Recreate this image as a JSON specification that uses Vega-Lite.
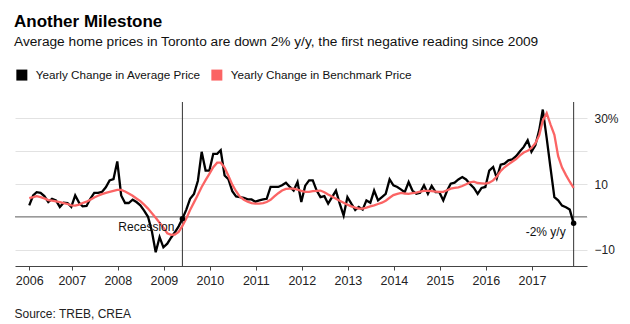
{
  "$schema": "https://vega.github.io/schema/vega-lite/v6.json",
  "width": 572,
  "height": 164,
  "autosize": {"type": "none"},
  "padding": {"left": 15, "top": 102, "right": 43, "bottom": 58},
  "background": "white",
  "config": {"view": {"stroke": null}, "font": "Liberation Sans"},
  "title": {
    "text": "Another Milestone",
    "subtitle": "Average home prices in Toronto are down 2% y/y, the first negative reading since 2009",
    "anchor": "start",
    "frame": "group",
    "fontSize": 17,
    "fontWeight": "bold",
    "color": "#000000",
    "subtitleFontSize": 13.7,
    "subtitleColor": "#111111",
    "subtitlePadding": 4,
    "offset": 19,
    "dx": -1
  },
  "datasets": {
    "series": [
      {"d":"2006-01-28","a":3.5,"b":5.7},{"d":"2006-02-28","a":6.5,"b":6.0},{"d":"2006-03-28","a":7.5,"b":6.3},{"d":"2006-04-28","a":7.3,"b":6.0},{"d":"2006-05-28","a":6.3,"b":5.6},{"d":"2006-06-28","a":4.5,"b":5.1},{"d":"2006-07-28","a":5.5,"b":4.9},{"d":"2006-08-28","a":5.0,"b":4.7},{"d":"2006-09-28","a":3.0,"b":4.5},{"d":"2006-10-28","a":4.3,"b":4.2},{"d":"2006-11-28","a":4.2,"b":3.9},{"d":"2006-12-28","a":3.0,"b":3.5},
      {"d":"2007-01-28","a":6.5,"b":3.4},{"d":"2007-02-28","a":4.3,"b":3.7},{"d":"2007-03-28","a":3.2,"b":4.2},{"d":"2007-04-28","a":3.3,"b":4.6},{"d":"2007-05-28","a":5.5,"b":5.2},{"d":"2007-06-28","a":7.3,"b":5.9},{"d":"2007-07-28","a":7.3,"b":6.4},{"d":"2007-08-28","a":7.6,"b":6.9},{"d":"2007-09-28","a":9.0,"b":7.3},{"d":"2007-10-28","a":11.1,"b":7.6},{"d":"2007-11-28","a":11.5,"b":7.9},{"d":"2007-12-28","a":16.9,"b":8.2},
      {"d":"2008-01-28","a":6.5,"b":8.2},{"d":"2008-02-28","a":4.2,"b":7.7},{"d":"2008-03-28","a":4.2,"b":7.1},{"d":"2008-04-28","a":5.2,"b":6.4},{"d":"2008-05-28","a":4.5,"b":5.6},{"d":"2008-06-28","a":3.5,"b":4.8},{"d":"2008-07-28","a":1.9,"b":3.7},{"d":"2008-08-28","a":0.0,"b":2.5},{"d":"2008-09-28","a":-4.5,"b":1.1},{"d":"2008-10-28","a":-10.8,"b":-0.3},{"d":"2008-11-28","a":-6.2,"b":-1.8},{"d":"2008-12-28","a":-9.3,"b":-3.3},
      {"d":"2009-01-28","a":-8.2,"b":-5.0},{"d":"2009-02-28","a":-6.3,"b":-5.5},{"d":"2009-03-28","a":-4.8,"b":-5.4},{"d":"2009-04-28","a":-2.9,"b":-4.6},{"d":"2009-05-28","a":-0.6,"b":-2.8},{"d":"2009-06-28","a":2.2,"b":-0.5},{"d":"2009-07-28","a":5.5,"b":2.1},{"d":"2009-08-28","a":7.0,"b":4.4},{"d":"2009-09-28","a":11.0,"b":6.7},{"d":"2009-10-28","a":19.8,"b":9.1},{"d":"2009-11-28","a":14.1,"b":11.2},{"d":"2009-12-28","a":14.1,"b":13.1},
      {"d":"2010-01-28","a":19.2,"b":15.1},{"d":"2010-02-28","a":19.2,"b":16.5},{"d":"2010-03-28","a":20.3,"b":16.5},{"d":"2010-04-28","a":12.6,"b":15.0},{"d":"2010-05-28","a":11.5,"b":12.5},{"d":"2010-06-28","a":7.8,"b":9.8},{"d":"2010-07-28","a":6.2,"b":7.8},{"d":"2010-08-28","a":6.0,"b":6.1},{"d":"2010-09-28","a":5.8,"b":5.2},{"d":"2010-10-28","a":5.3,"b":4.6},{"d":"2010-11-28","a":5.3,"b":4.2},{"d":"2010-12-28","a":4.6,"b":4.0},
      {"d":"2011-01-28","a":5.0,"b":4.0},{"d":"2011-02-28","a":5.3,"b":4.2},{"d":"2011-03-28","a":5.5,"b":4.5},{"d":"2011-04-28","a":9.1,"b":5.2},{"d":"2011-05-28","a":9.1,"b":6.2},{"d":"2011-06-28","a":9.1,"b":7.2},{"d":"2011-07-28","a":9.6,"b":8.0},{"d":"2011-08-28","a":10.4,"b":8.5},{"d":"2011-09-28","a":9.1,"b":8.6},{"d":"2011-10-28","a":8.0,"b":8.6},{"d":"2011-11-28","a":10.6,"b":8.3},{"d":"2011-12-28","a":4.5,"b":7.9},
      {"d":"2012-01-28","a":9.5,"b":7.6},{"d":"2012-02-28","a":11.1,"b":7.6},{"d":"2012-03-28","a":11.1,"b":7.8},{"d":"2012-04-28","a":8.0,"b":7.9},{"d":"2012-05-28","a":6.0,"b":8.0},{"d":"2012-06-28","a":6.3,"b":7.5},{"d":"2012-07-28","a":4.0,"b":6.8},{"d":"2012-08-28","a":6.0,"b":6.2},{"d":"2012-09-28","a":8.0,"b":5.5},{"d":"2012-10-28","a":4.0,"b":4.9},{"d":"2012-11-28","a":0.4,"b":4.3},{"d":"2012-12-28","a":6.0,"b":3.7},
      {"d":"2013-01-28","a":4.0,"b":3.2},{"d":"2013-02-28","a":2.1,"b":2.8},{"d":"2013-03-28","a":3.0,"b":2.5},{"d":"2013-04-28","a":2.2,"b":2.5},{"d":"2013-05-28","a":5.0,"b":2.8},{"d":"2013-06-28","a":4.3,"b":3.2},{"d":"2013-07-28","a":8.0,"b":3.5},{"d":"2013-08-28","a":5.0,"b":3.9},{"d":"2013-09-28","a":6.0,"b":4.3},{"d":"2013-10-28","a":7.0,"b":4.9},{"d":"2013-11-28","a":11.4,"b":5.8},{"d":"2013-12-28","a":9.6,"b":6.6},
      {"d":"2014-01-28","a":9.1,"b":7.0},{"d":"2014-02-28","a":8.3,"b":7.3},{"d":"2014-03-28","a":7.5,"b":7.1},{"d":"2014-04-28","a":10.6,"b":7.0},{"d":"2014-05-28","a":8.0,"b":7.2},{"d":"2014-06-28","a":7.0,"b":7.4},{"d":"2014-07-28","a":7.3,"b":7.7},{"d":"2014-08-28","a":9.6,"b":7.9},{"d":"2014-09-28","a":7.0,"b":7.9},{"d":"2014-10-28","a":9.4,"b":7.8},{"d":"2014-11-28","a":7.5,"b":7.7},{"d":"2014-12-28","a":7.5,"b":7.6},
      {"d":"2015-01-28","a":5.0,"b":7.6},{"d":"2015-02-28","a":8.0,"b":8.1},{"d":"2015-03-28","a":10.1,"b":8.6},{"d":"2015-04-28","a":10.4,"b":8.8},{"d":"2015-05-28","a":11.4,"b":9.0},{"d":"2015-06-28","a":12.1,"b":9.4},{"d":"2015-07-28","a":11.4,"b":9.9},{"d":"2015-08-28","a":10.0,"b":10.5},{"d":"2015-09-28","a":8.8,"b":10.7},{"d":"2015-10-28","a":7.0,"b":10.3},{"d":"2015-11-28","a":8.8,"b":10.2},{"d":"2015-12-28","a":9.1,"b":10.1},
      {"d":"2016-01-28","a":14.1,"b":10.4},{"d":"2016-02-28","a":15.2,"b":11.1},{"d":"2016-03-28","a":11.8,"b":12.3},{"d":"2016-04-28","a":15.9,"b":14.0},{"d":"2016-05-28","a":16.2,"b":15.1},{"d":"2016-06-28","a":17.2,"b":16.0},{"d":"2016-07-28","a":17.5,"b":16.8},{"d":"2016-08-28","a":18.5,"b":17.6},{"d":"2016-09-28","a":20.0,"b":18.7},{"d":"2016-10-28","a":21.3,"b":19.6},{"d":"2016-11-28","a":23.3,"b":20.1},{"d":"2016-12-28","a":19.8,"b":21.0},
      {"d":"2017-01-28","a":21.8,"b":22.4},{"d":"2017-02-28","a":26.5,"b":24.9},{"d":"2017-03-28","a":32.7,"b":29.3},{"d":"2017-04-28","a":24.0,"b":31.6},{"d":"2017-05-28","a":15.0,"b":28.2},{"d":"2017-06-28","a":6.0,"b":25.0},{"d":"2017-07-28","a":5.0,"b":18.5},{"d":"2017-08-28","a":3.4,"b":15.0},{"d":"2017-09-28","a":2.9,"b":12.7},{"d":"2017-10-28","a":2.2,"b":10.7},{"d":"2017-11-28","a":-2.0,"b":8.8}
    ],
    "zero": [{"v": 0}],
    "vlines": [{"d": "2009-05-28"}, {"d": "2017-11-28"}],
    "dots": [{"d": "2009-05-28", "v": -0.6}, {"d": "2017-11-28", "v": -2.0}],
    "notes": [{"d": "2009-05-28", "v": -3.1, "t": "Recession"}, {"d": "2017-11-28", "v": -4.5, "t": "-2% y/y"}]
  },
  "layer": [
    {
      "data": {"name": "zero"},
      "mark": {"type": "rule", "color": "#9a9a9a", "strokeWidth": 1.5},
      "encoding": {"y": {"field": "v", "type": "quantitative"}}
    },
    {
      "data": {"name": "vlines"},
      "mark": {"type": "rule", "color": "#333333", "strokeWidth": 1},
      "encoding": {"x": {"field": "d", "type": "temporal"}}
    },
    {
      "data": {"name": "series"},
      "transform": [{"fold": ["a", "b"], "as": ["s", "v"]}],
      "mark": {"type": "line", "strokeWidth": 2.3},
      "encoding": {
        "x": {
          "field": "d",
          "type": "temporal",
          "scale": {"domain": ["2005-10-07", "2018-03-14"]},
          "axis": {
            "values": [
              {"year": 2006, "month": 1, "date": 28},
              {"year": 2007, "month": 1, "date": 1},
              {"year": 2008, "month": 1, "date": 1},
              {"year": 2009, "month": 1, "date": 1},
              {"year": 2010, "month": 1, "date": 1},
              {"year": 2011, "month": 1, "date": 1},
              {"year": 2012, "month": 1, "date": 1},
              {"year": 2013, "month": 1, "date": 1},
              {"year": 2014, "month": 1, "date": 1},
              {"year": 2015, "month": 1, "date": 1},
              {"year": 2016, "month": 1, "date": 1},
              {"year": 2017, "month": 1, "date": 1}
            ],
            "format": "%Y",
            "grid": false,
            "domainColor": "#444444",
            "tickColor": "#444444",
            "tickSize": 4,
            "labelFontSize": 12.5,
            "labelColor": "#222222",
            "labelPadding": 4,
            "labelFlush": false,
            "labelOverlap": false,
            "title": "Source: TREB, CREA",
            "titleFontSize": 12,
            "titleFontWeight": "normal",
            "titleColor": "#222222",
            "titleAnchor": "start",
            "titleAlign": "left",
            "titleBaseline": "alphabetic",
            "titleX": -1,
            "titleY": 51.5
          }
        },
        "y": {
          "field": "v",
          "type": "quantitative",
          "scale": {"domain": [-15, 35], "nice": false},
          "axis": {
            "orient": "right",
            "values": [-10, 0, 10, 20, 30],
            "grid": true,
            "gridColor": "#e2e2e2",
            "gridWidth": 1,
            "domain": false,
            "ticks": false,
            "labelExpr": "datum.value == 30 ? '30%' : (datum.value == 10 || datum.value == -10 ? datum.label : '')",
            "labelFontSize": 12,
            "labelColor": "#222222",
            "labelPadding": 7,
            "title": null
          }
        },
        "color": {
          "field": "s",
          "type": "nominal",
          "scale": {"domain": ["a", "b"], "range": ["#000000", "#fb6464"]},
          "legend": {
            "orient": "none",
            "legendX": 1,
            "legendY": -33,
            "direction": "horizontal",
            "title": null,
            "padding": 0,
            "symbolType": "square",
            "symbolSize": 121,
            "symbolStrokeWidth": 0,
            "labelFontSize": 11.7,
            "labelColor": "#111111",
            "labelOffset": 8,
            "labelLimit": 0,
            "columnPadding": 10,
            "labelExpr": "datum.value == 'a' ? 'Yearly Change in Average Price' : 'Yearly Change in Benchmark Price'",
            "encode": {"symbols": {"update": {"fill": {"scale": "color", "field": "value"}, "fillOpacity": {"value": 1}}}}
          }
        }
      }
    },
    {
      "data": {"name": "dots"},
      "mark": {"type": "point", "shape": "circle", "filled": true, "color": "#000000", "opacity": 1, "size": 30},
      "encoding": {
        "x": {"field": "d", "type": "temporal"},
        "y": {"field": "v", "type": "quantitative"}
      }
    },
    {
      "data": {"name": "notes"},
      "mark": {"type": "text", "align": "right", "baseline": "middle", "dx": -8, "fontSize": 12, "color": "#111111"},
      "encoding": {
        "x": {"field": "d", "type": "temporal"},
        "y": {"field": "v", "type": "quantitative"},
        "text": {"field": "t"}
      }
    }
  ]
}
